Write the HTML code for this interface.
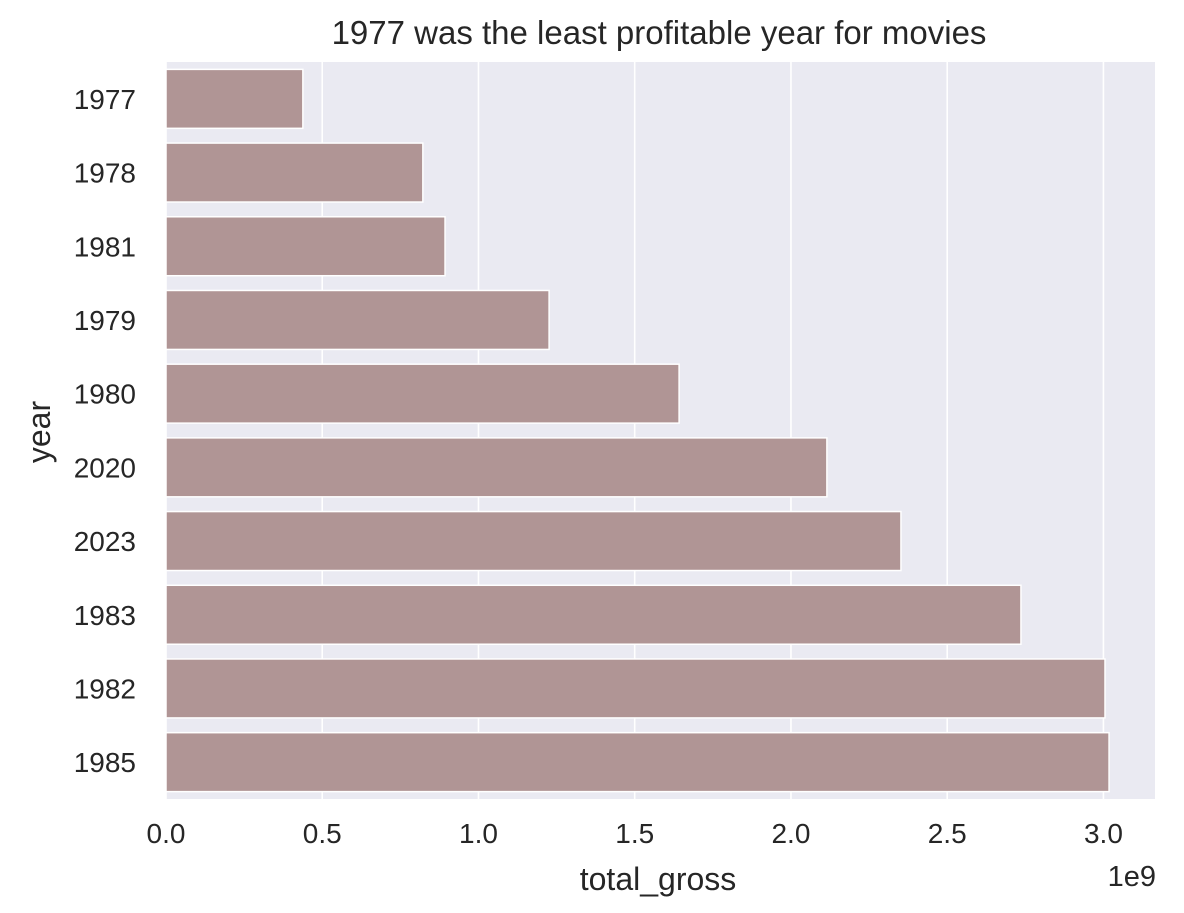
<!DOCTYPE html>
<html><head><meta charset="utf-8"><style>
body{margin:0;background:#fff;font-family:"Liberation Sans",sans-serif;}
svg text{font-family:"Liberation Sans",sans-serif;fill:#262626;}
</style></head><body>
<svg width="1184" height="908">
<g id="g"></g>
</svg>
<script>
const categories=["1977","1978","1981","1979","1980","2020","2023","1983","1982","1985"];
const grossValues=[0.438,0.822,0.893,1.226,1.642,2.115,2.352,2.736,3.005,3.018];
const xTicks=[0,0.5,1.0,1.5,2.0,2.5,3.0];
const xTickLabels=["0.0","0.5","1.0","1.5","2.0","2.5","3.0"];
const L=166,R=1155,T=62,B=799,XMAX=3.165;
const NS="http://www.w3.org/2000/svg";
const g=document.getElementById('g');
function x(v){return L+(v/XMAX)*(R-L);}
const band=(B-T)/categories.length;
function y(i){return T+band*i;}
function mk(t,a){const e=document.createElementNS(NS,t);for(const k in a)e.setAttribute(k,a[k]);g.appendChild(e);return e;}
let bg=mk('rect',{x:L,y:T,width:R-L,height:B-T,fill:'#eaeaf2'});


xTicks.forEach((t,i)=>{
 let l=mk('line',{x1:x(t),x2:x(t),y1:T,y2:B,stroke:'#fff','stroke-width':1.6});
 
 
 let tx=mk('text',{x:x(t),y:843,'font-size':28,'text-anchor':'middle'});tx.textContent=xTickLabels[i];
 
 
});
categories.forEach((c,i)=>{
 let r=mk('rect',{x:x(0),y:y(i)+band*0.1,width:x(grossValues[i])-x(0),height:band*0.8,fill:'#b09595',stroke:'#fff','stroke-width':1.5});
 
 
 let tx=mk('text',{x:136,y:y(i)+band/2+10,'font-size':28,'text-anchor':'end'});tx.textContent=c;
 
 
});
let t=mk('text',{x:659,y:44,'font-size':33,'text-anchor':'middle'});t.textContent='1977 was the least profitable year for movies';


let xl=mk('text',{x:658,y:890,'font-size':32,'text-anchor':'middle'});xl.textContent='total_gross';


let off=mk('text',{x:1156,y:886,'font-size':29,'text-anchor':'end'});off.textContent='1e9';


let yl=mk('text',{x:0,y:0,'font-size':32,'text-anchor':'middle',transform:'translate(50,432) rotate(-90)'});yl.textContent='year';


</script>
</body></html>
